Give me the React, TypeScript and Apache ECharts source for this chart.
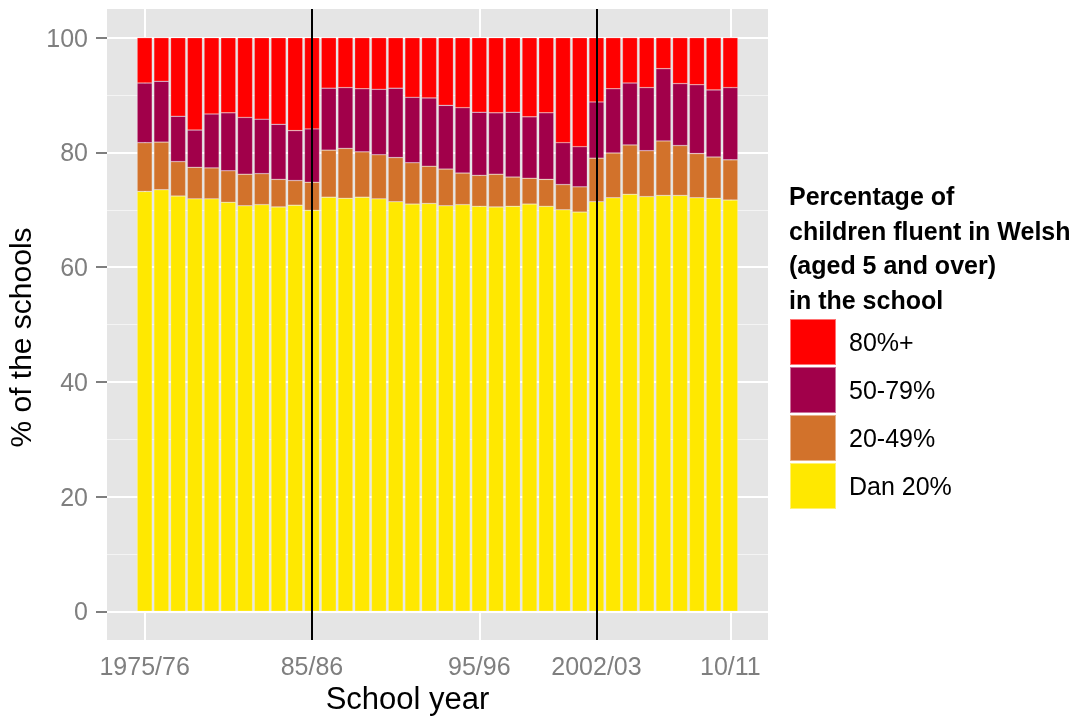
import React, { useEffect, useRef } from 'react';
import * as echarts from 'echarts';

const years = [1975, 1976, 1977, 1978, 1979, 1980, 1981, 1982, 1983, 1984, 1985, 1986, 1987, 1988, 1989, 1990, 1991, 1992, 1993, 1994, 1995, 1996, 1997, 1998, 1999, 2000, 2001, 2002, 2003, 2004, 2005, 2006, 2007, 2008, 2009, 2010];

const dan20 = [73.2, 73.5, 72.4, 71.9, 71.9, 71.3, 70.7, 70.9, 70.5, 70.8, 69.9, 72.2, 72.0, 72.2, 71.9, 71.4, 71.0, 71.1, 70.7, 70.9, 70.6, 70.5, 70.6, 71.0, 70.6, 70.0, 69.6, 71.4, 72.1, 72.7, 72.3, 72.5, 72.5, 72.1, 72.0, 71.7];
const p20to49 = [8.5, 8.3, 6.0, 5.5, 5.4, 5.5, 5.5, 5.4, 4.8, 4.3, 4.9, 8.2, 8.7, 7.9, 7.7, 7.7, 7.2, 6.5, 6.4, 5.5, 5.4, 5.7, 5.1, 4.5, 4.7, 4.4, 4.4, 7.6, 7.8, 8.6, 8.0, 9.5, 8.7, 7.7, 7.2, 7.0];
const p50to79 = [10.4, 10.6, 7.9, 6.5, 9.4, 10.1, 9.9, 9.5, 9.6, 8.7, 9.3, 10.8, 10.6, 11.0, 11.4, 12.1, 11.4, 11.9, 11.1, 11.4, 11.0, 10.7, 11.3, 10.7, 11.6, 7.3, 7.0, 9.8, 11.2, 10.8, 11.0, 12.6, 10.8, 12.0, 11.7, 12.6];
const p80plus = [7.9, 7.6, 13.7, 16.1, 13.3, 13.1, 13.9, 14.2, 15.1, 16.2, 15.9, 8.8, 8.7, 8.9, 9.0, 8.8, 10.4, 10.5, 11.8, 12.2, 13.0, 13.1, 13.0, 13.8, 13.1, 18.3, 19.0, 11.2, 8.9, 7.9, 8.7, 5.4, 8.0, 8.2, 9.1, 8.7];

const seriesNames = ['Dan 20%', '20-49%', '50-79%', '80%+'];
const legendOrder = ['80%+', '50-79%', '20-49%', 'Dan 20%'];
const colors = ['#FFE800', '#D2722B', '#A1004A', '#FF0000'];

const xTickYears = [1975, 1985, 1995, 2002, 2010];
const xTickLabels = ['1975/76', '85/86', '95/96', '2002/03', '10/11'];
const markedYears = [1985, 2002];
const yMajor = [0, 20, 40, 60, 80, 100];
const yMinor = [10, 30, 50, 70, 90];

const FONT = '"Liberation Sans", Arial, Helvetica, sans-serif';

export default function App() {
  const ref = useRef<HTMLDivElement>(null);
  useEffect(() => {
    const chart = echarts.init(ref.current!, null, { renderer: 'svg' });
    const values = [dan20, p20to49, p50to79, p80plus];
    const gridLines: any[] = [
      ...yMinor.map((v) => ({ yAxis: v, lineStyle: { color: '#F4F4F4', width: 1, type: 'solid' } })),
      ...yMajor.map((v) => ({ yAxis: v, lineStyle: { color: '#FFFFFF', width: 2, type: 'solid' } })),
      ...xTickYears.map((v) => ({ xAxis: v, lineStyle: { color: '#FFFFFF', width: 2, type: 'solid' } })),
    ];
    const series = values.map((arr, i) => {
      const s: any = {
        name: seriesNames[i],
        type: 'bar',
        stack: 'total',
        barWidth: 15,
        // value first so that the stack is applied on the y dimension
        data: arr.map((v, j) => [v, years[j]]),
        encode: { x: 1, y: 0 },
        itemStyle: { color: colors[i], borderColor: 'rgba(255,255,255,0.45)', borderWidth: 0.5 },
        emphasis: { disabled: true },
      };
      if (i === 0) {
        s.markLine = {
          silent: true,
          z: 1,
          symbol: ['none', 'none'],
          label: { show: false },
          data: gridLines,
        };
      }
      if (i === 3) {
        s.markLine = {
          silent: true,
          symbol: ['none', 'none'],
          label: { show: false },
          lineStyle: { color: '#000', width: 2, type: 'solid' },
          data: markedYears.map((v) => ({ xAxis: v })),
        };
      }
      return s;
    });
    chart.setOption({
      animation: false,
      textStyle: { fontFamily: FONT },
      title: {
        text: 'Percentage of\nchildren fluent in Welsh\n(aged 5 and over)\nin the school',
        left: 789,
        top: 179,
        padding: 0,
        textStyle: { fontFamily: FONT, fontSize: 25, fontWeight: 'bold', color: '#000', lineHeight: 34.5 },
      },
      legend: {
        data: legendOrder,
        orient: 'vertical',
        left: 789,
        top: 318,
        padding: 0,
        itemWidth: 46,
        itemHeight: 46,
        itemGap: 0,
        icon: 'rect',
        selectedMode: false,
        textStyle: { fontFamily: FONT, fontSize: 25, color: '#000', padding: [0, 0, 0, 8] },
      },
      grid: {
        left: 107,
        right: 314,
        top: 9,
        bottom: 78,
        containLabel: false,
        outerBoundsMode: 'none',
        show: true,
        backgroundColor: '#E5E5E5',
        borderWidth: 0,
      },
      xAxis: {
        type: 'value',
        min: 1972.75,
        max: 2012.25,
        axisLine: { show: false },
        splitLine: { show: false },
        axisTick: { show: true, length: 11, customValues: xTickYears, lineStyle: { color: '#7F7F7F', width: 2 } },
        axisLabel: {
          customValues: xTickYears,
          margin: 13,
          fontSize: 25,
          color: '#7F7F7F',
          fontFamily: FONT,
          formatter: (v: number) => {
            const k = xTickYears.indexOf(v);
            return k >= 0 ? xTickLabels[k] : '';
          },
        },
        name: 'School year',
        nameLocation: 'middle',
        nameGap: 43,
        nameTextStyle: { fontSize: 31, color: '#000', fontFamily: FONT, padding: [0, 60, 0, 0] },
      },
      yAxis: {
        type: 'value',
        min: -5,
        max: 105,
        axisLine: { show: false },
        splitLine: { show: false },
        axisTick: { show: true, length: 11, customValues: yMajor, lineStyle: { color: '#7F7F7F', width: 2 } },
        axisLabel: { customValues: yMajor, margin: 19, fontSize: 25, color: '#7F7F7F', fontFamily: FONT },
        name: '% of the schools',
        nameLocation: 'middle',
        nameRotate: 90,
        nameGap: 55,
        nameTextStyle: { fontSize: 30, color: '#000', fontFamily: FONT, padding: [0, 26, 0, 0] },
      },
      series,
    });
    return () => chart.dispose();
  }, []);
  return <div ref={ref} style={{ position: 'fixed', left: 0, top: 0, width: 1082, height: 718 }} />;
}
